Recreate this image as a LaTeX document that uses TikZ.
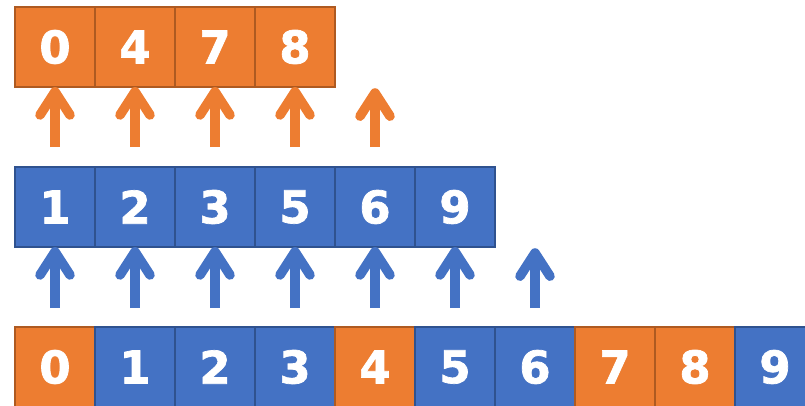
\documentclass[tikz,border=0pt]{standalone}
\usepackage{fontspec}
\setmainfont{DejaVu Sans}
\newfontfamily\cellfont[FakeBold=1.6]{DejaVu Sans Bold}
\usetikzlibrary{arrows.meta, positioning}
\definecolor{orfill}{HTML}{ED7D31}
\definecolor{ordraw}{HTML}{AE5A21}
\definecolor{blfill}{HTML}{4472C4}
\definecolor{bldraw}{HTML}{2F528F}
\tikzstyle{cell}=[rectangle, minimum size=2cm, inner sep=0pt, outer sep=0pt, line width=1.5pt, text=white, font=\fontsize{32}{32}\cellfont]
\tikzstyle{ocell}=[cell, draw=ordraw, fill=orfill]
\tikzstyle{bcell}=[cell, draw=bldraw, fill=blfill]
\tikzstyle{uparrow}=[line width=6.8pt, -{Straight Barb[length=0.58cm, width=0.75cm, round]}]

\begin{document}
\begin{tikzpicture}
    \useasboundingbox (0,0) rectangle (20.125,10.125);

    % merged row
    \foreach \v/\s [count=\i from 0] in {0/ocell,1/bcell,2/bcell,3/bcell,4/ocell,5/bcell,6/bcell,7/ocell,8/ocell,9/bcell}
        \node[\s] (m\i) at (1.375+2*\i, 0.95) {\v};

    % blue run
    \node[bcell] (b0) at (1.375, 4.95) {1};
    \node[bcell] (b1) [right=0pt of b0] {2};
    \node[bcell] (b2) [right=0pt of b1] {3};
    \node[bcell] (b3) [right=0pt of b2] {5};
    \node[bcell] (b4) [right=0pt of b3] {6};
    \node[bcell] (b5) [right=0pt of b4] {9};

    % orange run
    \node[ocell] (o0) at (1.375, 8.95) {0};
    \node[ocell] (o1) [right=0pt of o0] {4};
    \node[ocell] (o2) [right=0pt of o1] {7};
    \node[ocell] (o3) [right=0pt of o2] {8};

    % pointers into each run
    \foreach \i in {0,...,6}
        \coordinate (bf\i) at (1.375+2*\i, 2.425);
    \foreach \i in {0,...,4}
        \coordinate (of\i) at (1.375+2*\i, 6.45);
    \coordinate (bend) at (13.375, 3.92);
    \coordinate (oend) at (9.375, 7.92);

    \foreach \i in {0,...,5}
        \draw[uparrow, blfill] (bf\i) -- (b\i.south);
    \draw[uparrow, blfill] (bf6) -- (bend);
    \foreach \i in {0,...,3}
        \draw[uparrow, orfill] (of\i) -- (o\i.south);
    \draw[uparrow, orfill] (of4) -- (oend);
\end{tikzpicture}
\end{document}
